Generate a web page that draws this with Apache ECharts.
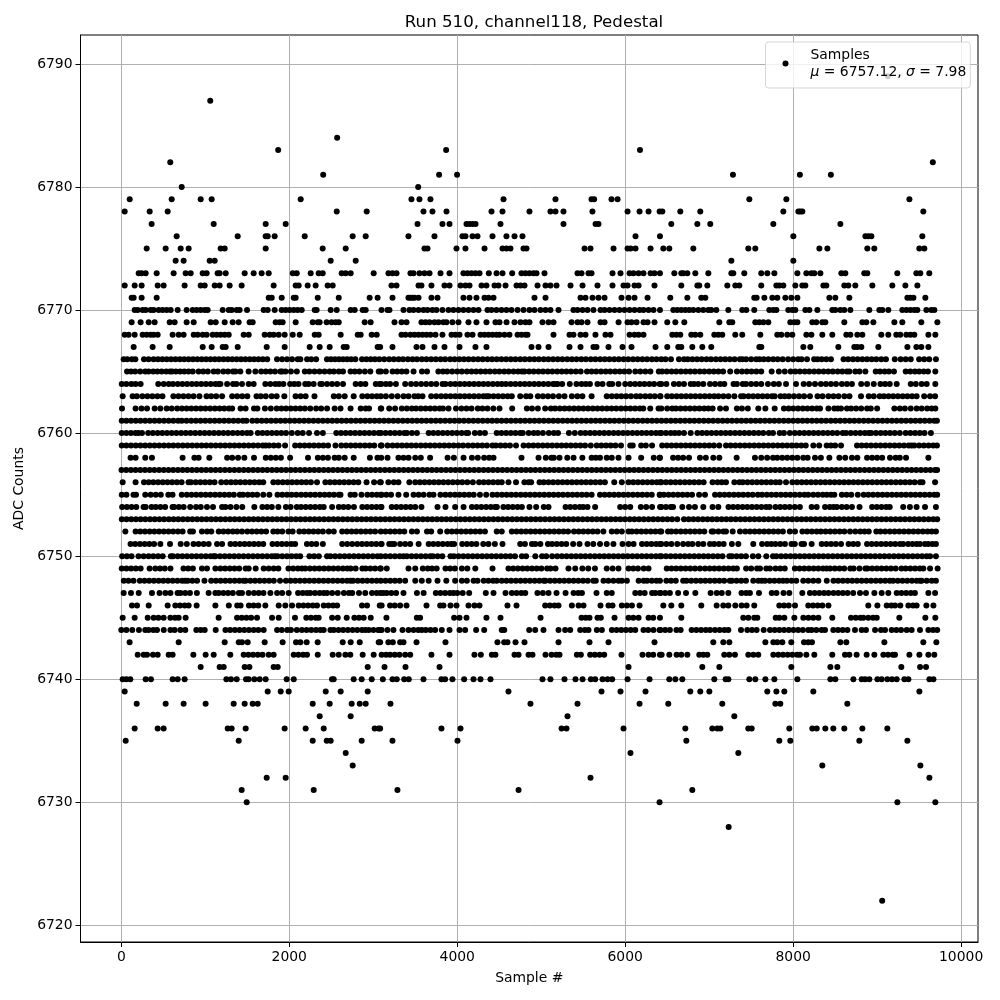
<!DOCTYPE html>
<html><head><meta charset="utf-8">
<style>html,body{margin:0;padding:0;background:#fff}#c{width:1000px;height:1000px}</style>
<script src="https://cdn.jsdelivr.net/npm/echarts@6/dist/echarts.min.js"></script>
</head><body><div id="c"></div>
<script>
const titleText = "Run 510, channel118, Pedestal";
const xTicks = [0,2000,4000,6000,8000,10000];
const yTicks = [6720,6730,6740,6750,6760,6770,6780,6790];
const L6789=[9127];
const L6787=[1059];
const L6784=[2570];
const L6783=[1868,3868,6176];
const L6782=[583,9663];
const L6781=[2404,3784,3998,7283,8080,8449];
const L6780=[719,3535];
const L6779=[100,600,945,1076,2136,3455,3550,3681,4551,5170,5599,5630,5837,5909,7478,7919,9384];
const L6778=[40,338,552,2565,2922,3598,3705,3872,4408,4539,4860,5110,5170,5265,5610,6028,6171,6278,6410,6442,6656,6894,7883,8062,8085,8109,9550];
const L6777=[361,1100,1719,1957,3527,3824,3908,4110,4146,4182,4218,4515,5265,5647,5682,6549,6859,7013,7764,8562];
const L6776=[659,1386,1719,1743,1826,2184,2755,2910,3419,3729,4062,4098,4182,4241,4420,4586,4682,4777,6123,6414,8002,8860,8895,8931,9538];
const L6775=[302,528,707,802,1183,1231,1719,2398,2672,3610,3646,3991,4098,4325,4539,4586,4634,4789,4825,5516,5587,5861,6028,6064,6123,6302,6454,6525,6811,7466,7549,8312,8407,8883,8966,9502,9562];
const L6774=[647,742,1052,1112,2493,2791,7264,8002];
const L6773=[207,242,290,421,623,766,826,969,1016,1147,1171,1243,1469,1576,1671,1755,2041,2089,2255,2350,2398,2624,2672,2731,3005,3181,3229,3277,3443,3479,3550,3610,3670,3801,3908,4074,4122,4170,4217,4265,4376,4468,4539,4654,4765,4813,4860,4908,4944,5039,5432,5480,5563,5599,5849,5944,6052,6099,6159,6218,6302,6349,6414,6585,6668,6692,6740,6835,6990,7264,7287,7418,7620,7692,7776,8050,8157,8217,8252,8324,8574,8621,8847,8883,9240,9467,9514,9621];
const L6772=[40,159,242,433,504,754,945,993,1112,1171,1290,1433,1814,2076,2112,2219,2314,2457,2517,3217,3277,3539,3574,3693,3848,3908,4039,4098,4146,4289,4348,4444,4491,4575,4706,4753,4801,4956,5051,5110,5182,5349,5492,5670,5849,5980,6028,6111,6159,6349,6668,6859,6882,6978,7216,7311,7359,7620,7800,7835,7883,8026,8109,8145,8360,8395,8609,8657,8740,8943,9181,9336,9479];
const L6771=[123,147,242,421,1755,1791,1910,2053,2076,2339,2589,2957,3052,3229,3419,3443,3467,3491,3539,3693,3765,4074,4146,4229,4325,4372,4432,4920,5051,5468,5527,5611,5682,5754,5956,6040,6111,6266,6537,6740,6906,6954,7537,7565,7657,7752,7811,7907,7978,8050,8431,8502,8669,9360,9396,9432,9574];
const L6770=[159,195,254,290,349,385,445,492,540,588,671,778,850,897,945,993,1028,1207,1279,1314,1374,1409,1497,1695,1743,1826,1910,1957,2005,2053,2100,2148,2303,2326,2493,2565,2731,2779,2874,2910,3098,3169,3193,3360,3431,3479,3539,3598,3646,3705,3753,3824,3896,3955,4015,4074,4134,4194,4253,4360,4408,4467,4527,4586,4646,4718,4789,4860,4920,4991,5051,5110,5206,5384,5432,5492,5551,5622,5706,5754,5813,5873,5932,5992,6052,6111,6171,6218,6278,6337,6414,6573,6620,6668,6716,6763,6811,6871,6930,6990,7025,7085,7228,7394,7442,7537,7716,7764,7800,7942,7990,8026,8145,8193,8288,8466,8502,8562,8609,8681,8907,9026,9062,9133,9300,9348,9396,9443,9479,9586,9645,9681];
const L6769=[123,230,326,397,576,635,778,862,1064,1124,1231,1326,1397,1528,1564,1838,1886,1921,2076,2279,2338,2362,2445,2505,2553,2589,2898,2969,3253,3336,3396,3574,3622,3670,3729,3777,3836,3872,3943,4015,4134,4229,4348,4455,4503,4587,4682,4753,4813,4860,5015,5087,5146,5361,5432,5480,5551,5706,5754,5921,6028,6075,6135,6218,6266,6349,6501,6597,6704,7121,7240,7275,7549,7597,7645,7704,7966,8014,8050,8228,8276,8347,8383,8609,8824,8871,8955,9205,9300,9526,9717];
const L6768=[40,87,159,254,302,349,385,433,611,683,742,862,909,969,1016,1088,1136,1183,1231,1279,1457,1517,1707,1767,1814,1874,1945,2041,2124,2303,2350,2612,2815,2850,2981,3041,3336,3384,3443,3491,3539,3586,3634,3681,3741,3824,3932,3979,4027,4122,4182,4277,4325,4372,4420,4467,4503,4563,4622,4718,4765,4813,4837,5146,5337,5384,5468,5527,5646,5765,5825,6052,6111,6159,6218,6561,6609,6656,6787,6835,6894,7061,7109,7156,7311,7394,7609,7811,7859,7930,7990,8157,8217,8347,8466,8633,8681,8764,8824,9050,9133,9228,9276,9348,9396,9443,9610,9693];
const L6767=[147,373,576,969,1076,1207,1243,1386,1731,1945,2243,2362,2481,2648,2684,3052,3082,3229,3515,3586,3729,3848,4027,4217,4348,4884,4968,5087,5337,5468,5622,5658,5801,5968,6075,6361,6501,6632,6668,6799,6918,7025,7597,7621,8121,8204,8538,8728,8764,8812,9014,9360,9467,9526,9610];
const L6766=[28,70,125,167,270,325,385,437,489,541,593,645,697,749,801,853,905,957,1009,1061,1113,1165,1217,1269,1321,1373,1425,1477,1529,1581,1633,1685,1737,1854,1914,1973,2033,2100,2132,2212,2262,2320,2449,2497,2545,2593,2641,2689,2737,2787,2866,2918,2970,3020,3072,3130,3190,3245,3302,3355,3412,3468,3520,3578,3633,3690,3745,3802,3856,3915,3968,4025,4080,4135,4192,4248,4303,4360,4415,4470,4526,4582,4638,4693,4750,4805,4862,4918,4973,5030,5085,5142,5197,5252,5310,5365,5420,5478,5532,5590,5645,5702,5757,5812,5870,5925,5982,6036,6094,6148,6205,6260,6318,6372,6430,6480,6545,6640,6700,6745,6800,6856,6910,6968,7022,7080,7135,7190,7246,7302,7365,7395,7440,7500,7560,7600,7650,7705,7762,7816,7875,7940,8000,8060,8100,8165,8250,8290,8340,8395,8450,8600,8655,8712,8768,8824,8880,8935,8990,9050,9105,9210,9280,9340,9400,9500,9560,9620,9700];
const L6765=[68,115,165,225,285,325,380,430,480,535,580,605,650,700,750,800,850,920,975,1030,1100,1150,1215,1270,1330,1360,1417,1516,1596,1665,1720,1775,1830,1895,1915,1955,2020,2090,2185,2240,2300,2360,2420,2480,2530,2590,2640,2730,2780,2835,2900,2965,3065,3090,3150,3230,3285,3340,3395,3480,3580,3640,3775,3830,3880,3940,4000,4055,4115,4170,4225,4280,4336,4390,4448,4502,4560,4612,4670,4725,4770,4800,4856,4910,4968,5022,5078,5132,5190,5245,5300,5355,5412,5470,5545,5600,5655,5712,5768,5822,5880,5935,5990,6046,6120,6180,6240,6300,6400,6440,6495,6552,6608,6664,6720,6775,6830,6888,6942,7000,7055,7110,7166,7250,7330,7390,7448,7504,7562,7620,7744,7830,7900,7970,8026,8080,8138,8192,8250,8305,8362,8418,8472,8530,8585,8640,8670,8740,8790,8860,8983,9035,9090,9140,9200,9340,9395,9450,9500,9555,9605,9693];
const L6764=[5,60,120,170,230,440,505,565,615,672,728,784,840,896,952,1008,1064,1120,1160,1180,1260,1330,1370,1437,1517,1576,1715,1775,1835,1880,1930,2010,2060,2110,2190,2230,2290,2370,2390,2450,2510,2570,2640,2790,2850,2906,3030,3075,3095,3150,3200,3270,3380,3450,3510,3570,3630,3690,3750,3825,3860,3920,3976,4032,4088,4144,4200,4256,4312,4368,4424,4480,4530,4580,4636,4692,4748,4804,4860,4916,4972,5028,5084,5140,5165,5195,5250,5340,5420,5480,5530,5580,5670,5730,5810,5845,5920,6000,6060,6118,6174,6230,6288,6344,6410,6430,6490,6580,6640,6700,6780,6820,6870,6930,7010,7070,7130,7180,7290,7330,7400,7440,7500,7560,7620,7700,7770,7830,7915,8034,8125,8190,8260,8330,8390,8450,8510,8580,8640,8700,8810,8880,8960,9040,9095,9150,9233,9400,9460,9530,9590,9693];
const L6763=[16,135,185,250,310,370,430,490,620,680,740,800,860,930,1015,1070,1130,1200,1320,1380,1440,1500,1610,1660,1720,1790,1850,1941,2075,2135,2195,2300,2530,2590,2660,2767,2870,2930,2986,3042,3090,3150,3220,3290,3360,3420,3490,3535,3586,3690,3750,3808,3864,3920,3976,4032,4088,4144,4200,4256,4312,4350,4375,4432,4488,4544,4600,4650,4750,4820,4870,4960,5020,5080,5140,5210,5277,5365,5430,5490,5600,5780,5840,5898,5954,6010,6068,6130,6180,6240,6296,6352,6415,6420,6500,6555,6612,6668,6724,6780,6836,6892,6948,7004,7060,7110,7170,7230,7300,7380,7410,7468,7524,7580,7636,7692,7748,7780,7850,7900,7950,8010,8070,8130,8200,8290,8350,8420,8480,8540,8610,8670,8808,8900,8960,9030,9080,9136,9192,9248,9304,9360,9416,9470,9560,9630,9690];
const L6762=[8,170,240,306,397,465,540,600,665,722,778,834,890,946,1002,1058,1114,1170,1226,1282,1320,1420,1480,1580,1620,1710,1780,1850,1906,1962,2018,2074,2130,2186,2250,2320,2380,2450,2540,2610,2730,2850,2910,2950,3090,3095,3190,3260,3340,3400,3460,3510,3566,3622,3678,3734,3790,3830,3896,3985,4050,4110,4170,4245,4300,4360,4430,4503,4654,4829,4890,4960,5047,5115,5165,5222,5278,5334,5390,5446,5502,5558,5614,5670,5726,5782,5838,5894,5950,6006,6062,6118,6174,6215,6298,6397,6430,6500,6560,6604,6660,6716,6772,6828,6884,6940,6990,7041,7130,7200,7330,7390,7460,7585,7669,7780,7890,7946,8002,8058,8114,8170,8226,8282,8320,8420,8490,8530,8570,8640,8690,8750,8810,8880,8925,9000,9205,9270,9330,9400,9470,9530,9595,9650,9693];
const L6761=[5,60,116,172,228,284,340,396,452,508,564,620,676,720,776,832,888,944,1000,1056,1112,1168,1224,1280,1336,1392,1448,1490,1560,1616,1672,1728,1784,1840,1896,1952,2008,2064,2120,2176,2232,2288,2344,2400,2456,2512,2568,2624,2680,2736,2792,2848,2904,2960,3016,3072,3128,3184,3240,3296,3352,3408,3464,3520,3576,3632,3688,3744,3800,3856,3912,3968,4024,4080,4136,4192,4248,4304,4360,4416,4472,4528,4584,4640,4696,4752,4808,4864,4920,4976,5032,5088,5144,5200,5256,5312,5368,5424,5480,5536,5592,5648,5704,5760,5816,5872,5928,5984,6040,6096,6152,6208,6264,6320,6376,6432,6488,6544,6600,6656,6712,6768,6824,6880,6936,6992,7048,7104,7160,7216,7272,7328,7384,7440,7496,7552,7608,7664,7720,7776,7832,7888,7944,8000,8056,8112,8168,8224,8280,8336,8392,8448,8504,8560,8616,8672,8728,8784,8840,8896,8952,9008,9064,9120,9176,9232,9288,9344,9400,9456,9512,9568,9624,9680,9712];
const L6760=[5,60,115,170,205,246,320,376,432,488,544,600,656,712,768,824,880,936,992,1048,1104,1160,1216,1272,1328,1384,1440,1496,1540,1625,1681,1737,1793,1849,1905,1961,2030,2100,2160,2235,2330,2400,2560,2616,2672,2728,2784,2840,2896,2952,3008,3064,3090,3146,3202,3258,3314,3370,3400,3460,3520,3660,3716,3772,3828,3884,3940,3996,4052,4108,4130,4210,4270,4330,4470,4526,4582,4638,4694,4750,4780,4850,4910,4960,5020,5090,5150,5200,5330,5400,5470,5526,5582,5638,5694,5750,5806,5862,5918,5974,6030,6086,6142,6198,6254,6310,6366,6414,6430,6486,6542,6590,6640,6700,6780,6860,6916,6972,7028,7084,7140,7196,7252,7308,7364,7420,7476,7532,7588,7644,7710,7760,7840,7890,7960,8020,8076,8132,8188,8244,8300,8356,8412,8468,8524,8590,8630,8686,8742,8798,8854,8900,8930,8986,9042,9098,9154,9210,9270,9340,9396,9452,9508,9564,9640];
const L6759=[5,60,116,172,228,284,340,396,452,508,564,620,676,732,788,844,900,956,1012,1068,1124,1180,1236,1292,1348,1404,1460,1516,1572,1628,1684,1720,1760,1816,1872,1950,2070,2126,2182,2238,2294,2350,2406,2462,2550,2620,2676,2732,2788,2844,2900,2956,3012,3090,3100,3170,3230,3286,3342,3398,3454,3510,3566,3622,3678,3734,3790,3846,3902,3958,4014,4070,4130,4186,4242,4298,4354,4420,4460,4516,4572,4628,4700,4790,4850,4906,4962,5018,5074,5130,5186,5242,5298,5354,5410,5466,5522,5590,5660,5716,5772,5828,5884,5950,6060,6090,6190,6246,6320,6440,6496,6552,6608,6664,6720,6776,6832,6888,6944,7000,7056,7120,7200,7256,7312,7368,7424,7480,7536,7592,7648,7704,7760,7816,7872,7928,7984,8040,8096,8150,8240,8310,8399,8450,8500,8570,8760,8816,8872,8928,8984,9040,9096,9152,9208,9264,9320,9376,9410,9443,9500,9556,9612,9668,9712];
const L6758=[110,170,285,365,730,870,920,1048,1260,1320,1390,1465,1580,1720,1780,1840,1900,2010,2223,2340,2400,2460,2540,2590,2660,2767,2960,3050,3095,3170,3300,3360,3420,3500,3566,3677,3885,3960,4075,4175,4245,4320,4380,4432,4765,4968,5055,5120,5150,5218,5310,5385,5490,5600,5650,5700,5780,5840,5920,6040,6190,6340,6410,6414,6570,6630,6690,6760,6890,6960,7049,7121,7327,7545,7620,7690,7760,7810,7870,7930,7990,8050,8120,8172,8260,8330,8431,8550,8620,8700,8764,8880,8940,9000,9060,9153,9220,9270,9344,9610];
const L6757=[2,58,114,170,226,282,338,394,450,506,562,618,674,730,786,842,898,954,1010,1066,1122,1178,1234,1290,1346,1402,1458,1514,1570,1626,1682,1738,1794,1850,1906,1962,2018,2074,2130,2186,2242,2298,2354,2410,2466,2522,2578,2634,2690,2746,2802,2858,2914,2970,3026,3082,3138,3194,3250,3306,3362,3418,3474,3530,3586,3642,3698,3754,3810,3866,3922,3978,4034,4090,4146,4202,4258,4314,4370,4426,4482,4538,4594,4650,4706,4762,4818,4874,4930,4986,5042,5098,5154,5210,5266,5322,5378,5434,5490,5546,5602,5658,5714,5770,5826,5882,5938,5994,6050,6106,6162,6218,6274,6330,6386,6442,6498,6554,6610,6666,6722,6778,6834,6890,6946,7002,7058,7114,7170,7226,7282,7338,7394,7450,7506,7562,7618,7674,7730,7786,7842,7898,7954,8010,8066,8122,8178,8234,8290,8346,8402,8458,8514,8570,8626,8682,8738,8794,8850,8906,8962,9018,9074,9130,9186,9242,9298,9354,9410,9466,9522,9578,9634,9690,9714];
const L6756=[16,170,270,326,382,438,494,550,606,662,718,800,830,886,942,998,1054,1110,1190,1250,1306,1362,1418,1474,1530,1586,1642,1690,1810,1866,1922,1978,2034,2090,2146,2202,2258,2330,2430,2486,2542,2598,2654,2710,2766,2822,2920,3010,3080,3090,3180,3245,3300,3430,3500,3556,3612,3668,3724,3780,3836,3892,3948,4004,4060,4120,4186,4260,4316,4372,4428,4484,4530,4610,4700,4800,4850,4880,4980,5030,5086,5142,5198,5254,5310,5366,5422,5478,5534,5590,5646,5702,5758,5870,5960,6040,6096,6152,6208,6264,6320,6376,6415,6430,6486,6542,6598,6654,6710,6766,6822,6878,6934,7040,7100,7150,7200,7300,7360,7400,7456,7512,7568,7624,7680,7736,7792,7840,7915,7990,8046,8102,8158,8214,8270,8326,8382,8438,8494,8550,8606,8662,8718,8774,8830,8886,8942,8998,9054,9110,9166,9222,9278,9334,9390,9446,9510,9540,9690];
const L6755=[5,60,145,175,285,350,410,470,560,610,720,780,836,892,948,1004,1060,1116,1172,1228,1284,1340,1410,1450,1506,1562,1618,1690,1763,1860,1916,1972,2028,2084,2140,2196,2252,2308,2364,2420,2476,2532,2590,2610,2730,2780,2860,2930,2986,3042,3090,3100,3156,3212,3300,3392,3480,3540,3600,3670,3717,3800,3860,3916,3972,4028,4084,4140,4196,4270,4345,4420,4476,4532,4588,4644,4700,4756,4812,4868,4924,4980,5036,5092,5148,5204,5260,5316,5372,5428,5484,5540,5600,5700,5756,5812,5868,5924,5980,6036,6092,6148,6204,6260,6316,6410,6414,6460,6516,6572,6628,6684,6740,6796,6880,6950,7070,7126,7182,7238,7294,7350,7406,7462,7518,7580,7630,7686,7742,7798,7854,7910,7966,8022,8078,8134,8180,8240,8296,8352,8400,8450,8490,8580,8636,8692,8770,8840,8896,8952,9008,9064,9120,9176,9232,9288,9344,9400,9456,9512,9568,9624,9680,9715];
const L6754=[10,66,122,178,265,290,360,410,466,522,610,630,686,742,820,890,946,1020,1092,1200,1240,1300,1370,1440,1584,1680,1736,1792,1870,1960,2016,2090,2140,2196,2252,2308,2364,2410,2510,2590,2646,2702,2770,2870,2926,2982,3038,3090,3098,3220,3276,3332,3388,3444,3500,3574,3765,3860,3975,4075,4175,4231,4287,4343,4399,4450,4472,4550,4606,4662,4718,4770,4860,4940,5030,5087,5290,5346,5402,5458,5500,5551,5642,5940,6000,6060,6186,6250,6320,6415,6430,6486,6542,6570,6680,6760,6830,6930,7040,7109,7230,7286,7342,7398,7454,7510,7566,7622,7678,7720,7790,7846,7902,7958,8020,8080,8220,8280,8380,8436,8480,8520,8580,8637,8700,8790,8940,8996,9052,9108,9150,9310,9390,9470,9570,9700];
const L6753=[6,62,118,174,230,286,342,398,454,510,566,622,678,734,790,846,902,958,1014,1070,1126,1182,1238,1294,1350,1406,1462,1518,1574,1630,1686,1742,1798,1854,1910,1966,2022,2078,2134,2190,2246,2302,2358,2414,2470,2526,2582,2638,2694,2750,2806,2862,2918,2974,3030,3086,3142,3198,3254,3310,3366,3422,3478,3534,3590,3646,3702,3758,3814,3870,3926,3982,4038,4094,4150,4206,4262,4318,4374,4430,4486,4542,4598,4654,4710,4766,4822,4878,4934,4990,5046,5102,5158,5214,5270,5326,5382,5438,5494,5550,5606,5662,5718,5774,5830,5886,5942,5998,6054,6110,6166,6222,6278,6334,6390,6446,6502,6558,6620,6700,6756,6812,6868,6924,6980,7036,7092,7148,7204,7260,7316,7372,7428,7484,7540,7596,7652,7708,7764,7820,7876,7932,7988,8044,8100,8156,8212,8268,8324,8380,8436,8492,8548,8604,8660,8716,8772,8828,8884,8940,8996,9052,9108,9164,9220,9276,9332,9388,9444,9500,9556,9612,9668,9715];
const L6752=[48,170,226,282,338,394,450,506,562,618,674,730,820,853,960,1020,1072,1160,1216,1272,1328,1380,1437,1500,1556,1612,1668,1724,1810,1860,1916,1990,2040,2120,2176,2232,2288,2344,2400,2470,2530,2630,2686,2742,2798,2854,2910,2966,3022,3090,3146,3202,3258,3314,3370,3460,3520,3640,3690,3797,3880,3936,3992,4048,4104,4160,4216,4272,4330,4470,4530,4650,4706,4762,4818,4874,4930,4986,5042,5098,5154,5210,5266,5320,5390,5446,5502,5558,5614,5670,5740,5840,5900,5960,6040,6080,6136,6192,6248,6304,6360,6414,6430,6510,6550,6606,6662,6718,6774,6830,6886,6942,7030,7050,7110,7170,7200,7280,7367,7430,7486,7542,7598,7654,7710,7766,7822,7878,7960,8022,8110,8166,8222,8280,8330,8386,8442,8498,8554,8610,8677,8740,8800,8850,8900,8990,9040,9096,9152,9208,9264,9320,9376,9432,9488,9544,9600,9650,9700];
const L6751=[110,166,222,278,334,390,465,580,707,780,860,920,980,1040,1140,1200,1300,1356,1412,1468,1524,1580,1636,1690,1800,1856,1912,1968,2024,2070,2210,2266,2322,2400,2630,2690,2750,2810,2866,2922,2978,3034,3090,3100,3190,3220,3250,3320,3380,3440,3540,3660,3716,3772,3828,3884,3930,3963,4060,4116,4172,4228,4310,4372,4448,4539,4750,4806,4890,4930,4990,5080,5130,5186,5242,5298,5380,5456,5551,5620,5700,5780,5860,5968,6040,6100,6200,6256,6312,6368,6414,6430,6490,6550,6620,6690,6750,6800,6870,6930,7010,7060,7116,7172,7270,7347,7525,7630,7690,7740,7790,7846,7902,7980,8020,8100,8130,8220,8340,8396,8452,8508,8570,8660,8716,8770,8880,8936,8992,9048,9104,9160,9216,9272,9310,9370,9420,9470,9510,9570,9610,9660,9700];
const L6750=[10,66,122,205,266,325,381,437,493,590,615,671,727,783,839,895,951,1007,1063,1100,1120,1176,1232,1288,1344,1400,1456,1512,1568,1624,1680,1736,1792,1830,1860,1916,1972,2028,2084,2130,2240,2296,2352,2450,2490,2546,2602,2658,2714,2770,2826,2882,2938,2994,3050,3090,3146,3202,3258,3314,3360,3400,3456,3512,3568,3624,3680,3710,3766,3822,3920,3960,4016,4072,4128,4184,4240,4296,4352,4408,4464,4520,4576,4632,4688,4770,4820,4930,5010,5060,5130,5190,5246,5302,5358,5414,5470,5526,5582,5638,5694,5750,5806,5862,5918,5974,6030,6086,6142,6198,6254,6310,6366,6414,6430,6486,6542,6598,6654,6710,6766,6822,6878,6934,6990,7046,7102,7158,7240,7270,7326,7382,7438,7520,7585,7680,7760,7800,7856,7912,7968,8024,8080,8136,8192,8248,8304,8360,8416,8472,8528,8584,8640,8696,8752,8808,8864,8920,8976,9032,9088,9144,9200,9256,9312,9368,9424,9480,9536,9590,9630,9700];
const L6749=[5,61,117,173,230,337,405,461,517,585,740,796,852,960,1020,1120,1180,1236,1292,1348,1404,1480,1517,1600,1695,1755,1815,1870,1990,2046,2102,2150,2190,2246,2302,2358,2414,2470,2526,2582,2638,2690,2730,2790,2870,2910,2966,3022,3082,3090,3161,3420,3500,3590,3650,3700,3755,3860,3916,3972,4055,4120,4215,4420,4610,4666,4722,4778,4834,4890,4946,5002,5070,5110,5170,5325,5405,5490,5560,5640,5780,5850,5920,6040,6096,6152,6220,6278,6495,6551,6607,6663,6719,6775,6831,6890,6950,7006,7062,7118,7174,7230,7286,7330,7440,7500,7570,7605,7680,7724,7790,7846,7900,8020,8076,8132,8188,8244,8300,8356,8400,8440,8496,8552,8608,8680,8720,8790,8860,8885,8941,8997,9053,9109,9165,9221,9290,9340,9396,9452,9508,9550,9630,9720];
const L6748=[30,85,145,220,276,332,388,444,500,556,612,668,724,760,790,846,902,990,1070,1126,1182,1238,1294,1350,1406,1455,1480,1536,1592,1648,1704,1760,1816,1890,1960,2016,2072,2128,2184,2240,2296,2352,2408,2464,2520,2576,2632,2688,2730,2760,2816,2872,2928,2984,3040,3090,3146,3202,3258,3314,3380,3500,3578,3660,3765,3870,3975,4055,4115,4195,4241,4315,4371,4427,4470,4530,4586,4642,4698,4754,4810,4866,4922,4978,5030,5050,5106,5162,5218,5274,5330,5386,5442,5498,5554,5620,5650,5742,5800,5860,5920,5960,6020,6160,6220,6260,6316,6372,6414,6490,6546,6602,6690,6730,6786,6842,6898,6954,7010,7066,7122,7178,7245,7270,7326,7382,7438,7525,7585,7625,7665,7721,7777,7833,7880,7925,7981,8037,8120,8180,8240,8300,8400,8480,8536,8592,8648,8704,8760,8816,8872,8928,8984,9040,9096,9150,9190,9246,9302,9358,9414,9470,9510,9530,9590,9650,9700];
const L6747=[28,115,207,365,455,525,585,670,705,761,817,900,1040,1120,1160,1216,1272,1328,1400,1437,1516,1580,1636,1692,1775,1855,1915,1993,2105,2160,2210,2250,2306,2362,2410,2450,2510,2577,2650,2710,2750,2830,2905,2985,3040,3085,3120,3160,3216,3272,3360,3520,3600,3745,3800,3856,3912,3955,4000,4065,4142,4340,4432,4575,4650,4706,4762,4810,4955,5020,5087,5182,5290,5385,5440,5485,5658,5780,5840,6120,6176,6232,6320,6360,6415,6420,6476,6532,6630,6724,6835,7017,7090,7150,7228,7385,7440,7485,7593,7745,7801,7885,7954,8109,8200,8256,8312,8368,8420,8480,8536,8592,8648,8715,8796,8867,8967,9054,9133,9233,9289,9345,9401,9450,9610,9690];
const L6746=[127,187,326,552,643,699,755,802,897,1120,1280,1380,1420,1520,1575,1631,1715,1874,1953,2033,2112,2168,2224,2280,2330,2410,2466,2522,2570,2866,2926,3077,3100,3200,3256,3320,3396,3634,3797,3836,3920,3991,4134,4205,4265,4598,4706,5047,5103,5159,5206,5365,5445,5504,5706,5801,5849,5960,6020,6080,6171,6454,6549,6668,6906,7089,7168,7228,7311,7386,7446,7537,7835,7891,7947,8022,8180,8236,8292,8348,8420,8895,9003,9114,9170,9213,9276,9372,9428,9470,9586,9670];
const L6745=[16,159,314,385,441,504,584,640,683,766,1159,1378,1434,1490,1546,1616,1795,1874,2068,2203,2259,2315,2350,2510,2577,2684,2775,2831,2886,2970,3157,3519,3558,3963,4027,4110,4348,4515,4992,5480,5530,5575,5670,5710,5873,6040,6096,6159,6278,6334,6414,6668,7406,7466,7537,7573,7792,7835,7895,8014,8121,8181,8240,8300,8466,8689,8745,8801,8835,8895,8951,8995,9264,9574,9693];
const L6744=[0,60,130,210,285,325,381,425,505,585,635,703,762,893,945,993,1124,1240,1296,1352,1408,1464,1520,1576,1632,1695,1855,1911,1975,2020,2090,2150,2206,2262,2318,2370,2410,2490,2530,2586,2642,2698,2754,2810,2866,2906,2946,3002,3058,3085,3100,3169,3240,3348,3420,3480,3536,3578,3626,3682,3737,3816,3908,4027,4094,4225,4321,4530,4560,4857,4928,5027,5206,5285,5345,5464,5520,5563,5662,5722,5841,5897,5953,6009,6065,6120,6218,6274,6337,6409,6420,6476,6532,6610,6660,6791,6847,6903,6959,7010,7069,7125,7181,7228,7379,7454,7510,7565,7649,7724,7780,7836,7892,7948,8004,8060,8116,8180,8220,8276,8339,8379,8478,8534,8590,8646,8736,8816,8867,8975,9046,9094,9173,9229,9285,9352,9411,9510,9610,9666,9715];
const L6743=[99,683,1231,1398,1437,1505,1707,1921,2080,2132,2207,2338,2636,2731,2839,3065,3082,3180,3233,3320,3360,3515,3860,4479,4559,4598,4694,4801,5206,5575,5801,6349,7049,7168,7240,7669,7764,7811,7871,7978,8129,8180,8224,8562,8633,9086,9550,9705];
const L6742=[195,266,306,377,433,564,611,858,1004,1100,1298,1457,1513,1569,1625,1681,1755,1814,2053,2109,2165,2211,2339,2517,2589,2668,2727,2874,3005,3100,3153,3200,3256,3312,3380,3440,3693,3908,4205,4281,4412,4455,4682,4730,4849,4896,5051,5123,5179,5218,5424,5472,5583,5639,5695,5750,5956,6206,6278,6334,6414,6434,6525,6612,6668,6740,6882,6930,6978,7180,7240,7307,7466,7526,7585,7764,7823,7879,7935,7991,8047,8081,8157,8252,8466,8617,8669,8756,8875,8967,9074,9130,9186,9213,9384,9503,9610,9681];
const L6741=[945,1171,1219,1469,1525,1814,1862,2934,3134,3384,3789,6040,6918,7121,7978,8443,8526,9288,9511,9582];
const L6740=[16,60,107,290,353,611,671,754,1251,1306,1374,1485,1517,1584,1648,1719,1969,2053,2509,2529,2767,2862,2982,3114,3229,3280,3368,3423,3598,3812,3856,3943,4082,4194,4277,4396,5015,5110,5277,5408,5492,5591,5643,5730,5790,5845,6028,6290,6525,6597,6680,7061,7196,7228,7478,7549,7669,7776,8050,8443,8502,8717,8816,8856,8907,9003,9054,9121,9177,9233,9324,9372,9622,9670];
const L6739=[40,1743,1898,1993,2434,2612,2934,4610,5718,5944,6242,6775,6894,7002,7692,7800,7895,8240,9503];
const L6738=[183,528,742,1004,1338,1469,1564,1624,2279,2481,2743,2839,2910,3205,4872,5432,6171,6513,7156,7788,7847,8645];
const L6737=[2362,2731,5313,7299];
const L6736=[159,433,504,1267,1314,1481,1945,2195,2410,3017,3065,3082,3812,4039,5242,5301,5980,6716,7037,7097,7133,7466,7506,7954,8228,8280,8383,8478,8609,8824,9121];
const L6735=[52,1398,2279,2446,2493,2862,3229,4003,6728,7835,7966,8788,9360];
const L6734=[2672,6063,7347];
const L6733=[2755,8347,9515];
const L6732=[1731,1957,5587,9622];
const L6731=[1433,2291,3288,4730,6799];
const L6730=[1493,6409,9241,9693];
const L6728=[7232];
const L6722=[9060];

const levels = [
[6789,L6789],[6787,L6787],[6784,L6784],[6783,L6783],[6782,L6782],[6781,L6781],[6780,L6780],[6779,L6779],[6778,L6778],[6777,L6777],[6776,L6776],[6775,L6775],[6774,L6774],[6773,L6773],[6772,L6772],[6771,L6771],[6770,L6770],[6769,L6769],[6768,L6768],[6767,L6767],[6766,L6766],[6765,L6765],[6764,L6764],[6763,L6763],[6762,L6762],[6761,L6761],[6760,L6760],[6759,L6759],[6758,L6758],[6757,L6757],[6756,L6756],[6755,L6755],[6754,L6754],[6753,L6753],[6752,L6752],[6751,L6751],[6750,L6750],[6749,L6749],[6748,L6748],[6747,L6747],[6746,L6746],[6745,L6745],[6744,L6744],[6743,L6743],[6742,L6742],[6741,L6741],[6740,L6740],[6739,L6739],[6738,L6738],[6737,L6737],[6736,L6736],[6735,L6735],[6734,L6734],[6733,L6733],[6732,L6732],[6731,L6731],[6730,L6730],[6728,L6728],[6722,L6722]];
const points = [];
levels.forEach(([v,xs])=>xs.forEach(x=>points.push([x,v])));

const font = 'DejaVu Sans';
const chart = echarts.init(document.getElementById('c'),null,{renderer:'canvas'});
const axisCommon = {
  axisLine:{show:true,onZero:false,lineStyle:{color:'#000',width:1}},
  axisTick:{show:true,length:5,lineStyle:{color:'#000',width:1}},
  splitLine:{show:true,lineStyle:{color:'#b0b0b0',width:1}},
  nameLocation:'middle',
  nameTextStyle:{color:'#000',fontFamily:font,fontSize:13.9}
};
const plain = v => String(v);
chart.setOption({
  animation:false,
  backgroundColor:'#fff',
  title:{text:titleText,left:529,top:9,textAlign:'center',
    textStyle:{color:'#000',fontFamily:font,fontSize:16.67,fontWeight:'normal'}},
  grid:{left:80.5,right:22,top:35,bottom:58,show:true,borderColor:'#000',borderWidth:1,backgroundColor:'transparent'},
  xAxis:Object.assign({},axisCommon,{type:'value',name:'Sample #',nameGap:29,min:-486,max:10201,
    axisTick:Object.assign({},axisCommon.axisTick,{customValues:xTicks}),
    axisLabel:{color:'#000',fontFamily:font,fontSize:13.9,margin:8,customValues:xTicks,formatter:plain,hideOverlap:false,showMinLabel:true,showMaxLabel:true}}),
  yAxis:Object.assign({},axisCommon,{type:'value',name:'ADC Counts',nameGap:53,min:6718.65,max:6792.35,
    axisTick:Object.assign({},axisCommon.axisTick,{customValues:yTicks}),
    axisLabel:{color:'#000',fontFamily:font,fontSize:13.9,margin:8,customValues:yTicks,formatter:plain,hideOverlap:false}}),
  legend:{show:true,left:765.5,top:42,orient:'vertical',
    data:[{name:'Samples'}],
    icon:'circle',itemWidth:6,itemHeight:6,itemGap:0,
    padding:[6,4,9,17],
    backgroundColor:'rgba(255,255,255,0.8)',borderColor:'rgba(204,204,204,0.8)',borderWidth:1,borderRadius:3,
    formatter:()=>'{t|Samples}\n{i|μ}{t| = 6757.12, }{i|σ}{t| = 7.98}',
    textStyle:{color:'#000',fontFamily:font,fontSize:13.9,padding:[0,0,0,17],
      rich:{t:{color:'#000',fontFamily:font,fontSize:13.9,lineHeight:17},i:{color:'#000',fontFamily:font,fontStyle:'italic',fontSize:13.9,lineHeight:17}}}
  },
  series:[{name:'Samples',type:'scatter',symbol:'circle',symbolSize:6,silent:true,large:false,
    itemStyle:{color:'#000',opacity:1},data:points,z:3}]
});
</script></body></html>
